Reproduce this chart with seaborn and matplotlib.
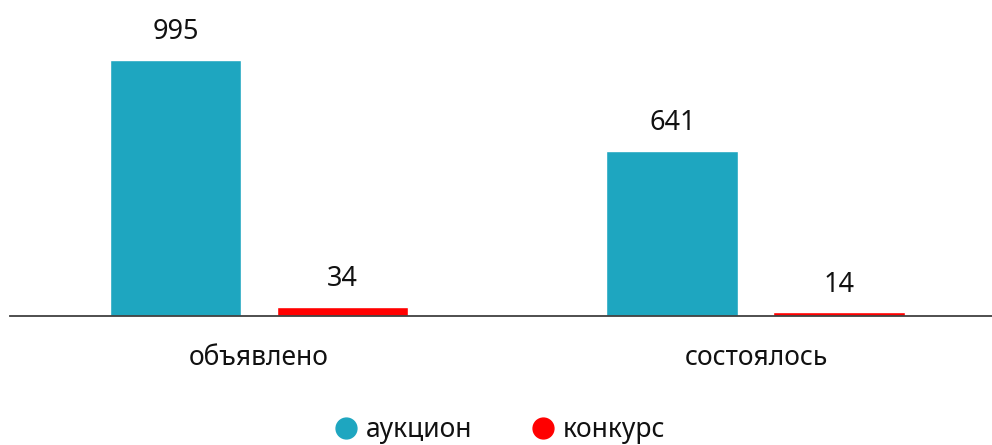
import matplotlib
matplotlib.use("Agg")
import matplotlib.pyplot as plt
import seaborn as sns
import pandas as pd
from matplotlib.lines import Line2D

categories = ["объявлено", "состоялось"]
series_names = ["аукцион", "конкурс"]
auction_values = [995, 641]
contest_values = [34, 14]
colors = ["#1EA6C0", "#FF0000"]

df = pd.DataFrame({
    "category": categories * 2,
    "series": [series_names[0]] * 2 + [series_names[1]] * 2,
    "value": auction_values + contest_values,
})

sns.set_theme(style="white")
plt.rcParams["font.family"] = ["Noto Sans", "DejaVu Sans"]

W, H = 992, 445
fig = plt.figure(figsize=(W / 100, H / 100), dpi=100)
ax = fig.add_axes([10 / W, (H - 316) / H, (992 - 10) / W, 316 / H])

sns.barplot(data=df, x="category", y="value", hue="series", palette=colors,
            width=0.672, gap=0.21, ax=ax, legend=False, saturation=1)

for cont in ax.containers:
    for bar in cont:
        h = bar.get_height()
        ax.annotate(f"{int(h)}", (bar.get_x() + bar.get_width() / 2, h),
                    xytext=(0, 10), textcoords="offset points",
                    ha="center", va="bottom", fontsize=19.5, color="#111111")

ax.set_xlim(-0.501, 1.475)
ax.set_ylim(0, 995 * 316 / 256)
ax.set_xlabel("")
ax.set_ylabel("")
ax.set_yticks([])
for s in ["top", "left", "right"]:
    ax.spines[s].set_visible(False)
ax.spines["bottom"].set_color("#404040")
ax.spines["bottom"].set_linewidth(1.3)
ax.tick_params(axis="x", length=0, pad=20, labelsize=19, labelcolor="#111111")

handles = [Line2D([0], [0], marker="o", linestyle="", markersize=15,
                  markerfacecolor=c, markeredgecolor=c) for c in colors]
fig.legend(handles, series_names, loc="lower center", ncol=2, frameon=False,
           fontsize=19, bbox_to_anchor=(0.503, -0.052), handlelength=1.0,
           handletextpad=0.25, columnspacing=2.2, labelcolor="#111111")

fig.savefig("out.png", dpi=100)
